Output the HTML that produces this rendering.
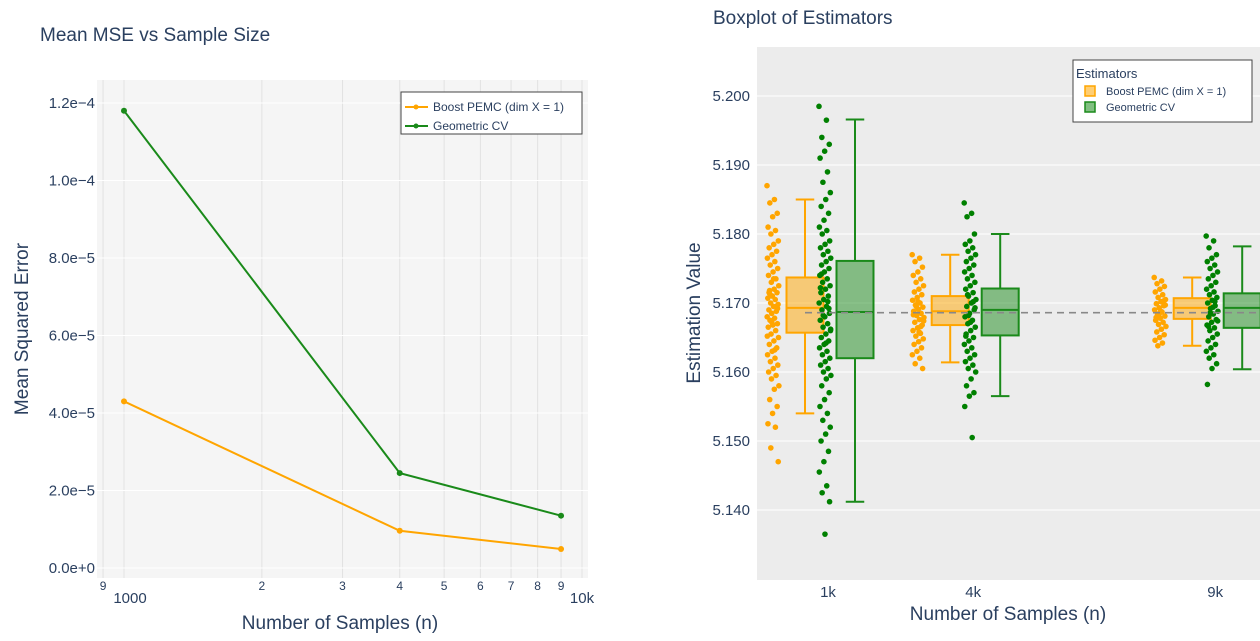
<!DOCTYPE html>
<html><head><meta charset="utf-8">
<style>
body{margin:0;background:#fff;width:1260px;height:636px;overflow:hidden;font-family:"Liberation Sans",sans-serif;}
svg text{font-family:"Liberation Sans",sans-serif;fill:#2a3f5f;}
</style></head>
<body>
<svg id="c" width="1260" height="636" xmlns="http://www.w3.org/2000/svg">
<rect x="97" y="80" width="491" height="498" fill="#f5f5f5"/>
<rect x="757" y="47" width="503" height="533" fill="#ececec"/>
<g id="L"></g><g id="R"></g>
<text x="40" y="41" font-size="19">Mean MSE vs Sample Size</text>
<text x="713" y="24" font-size="19">Boxplot of Estimators</text>
<text x="340" y="629" font-size="19" text-anchor="middle">Number of Samples (n)</text>
<text transform="translate(28,329) rotate(-90)" font-size="19" text-anchor="middle">Mean Squared Error</text>
<text x="1008" y="620" font-size="19" text-anchor="middle">Number of Samples (n)</text>
<text transform="translate(700,313) rotate(-90)" font-size="19" text-anchor="middle">Estimation Value</text>
<g>
<rect x="401" y="92" width="181" height="42" fill="#fff" stroke="#444" stroke-width="1"/>
<line x1="405" y1="107" x2="428" y2="107" stroke="#FFA500" stroke-width="2"/><circle cx="416" cy="107" r="2.5" fill="#FFA500"/>
<text x="433" y="111" font-size="12">Boost PEMC (dim X = 1)</text>
<line x1="405" y1="126" x2="428" y2="126" stroke="#1a8a1a" stroke-width="2"/><circle cx="416" cy="126" r="2.5" fill="#1a8a1a"/>
<text x="433" y="130" font-size="12">Geometric CV</text>
</g>
<g>
<rect x="1073" y="60" width="179" height="62" fill="#fff" stroke="#444" stroke-width="1"/>
<text x="1076" y="78" font-size="13">Estimators</text>
<rect x="1085" y="86" width="10" height="10" fill="#FFA500" fill-opacity="0.55" stroke="#FFA500" stroke-width="1.5"/>
<text x="1106" y="95" font-size="11">Boost PEMC (dim X = 1)</text>
<rect x="1085" y="102" width="10" height="10" fill="#1a8a1a" fill-opacity="0.55" stroke="#1a8a1a" stroke-width="1.5"/>
<text x="1106" y="111" font-size="11">Geometric CV</text>
</g>
</svg>
<script>
// ---- left chart data ----
const nValues=[1000,4000,9000];
const boostMSE=[4.3e-5,9.6e-6,4.9e-6];
const geoMSE=[1.18e-4,2.45e-5,1.35e-5];
const yTicksL=[0,2e-5,4e-5,6e-5,8e-5,1e-4,1.2e-4];
const yTickLabelsL=["0.0e+0","2.0e−5","4.0e−5","6.0e−5","8.0e−5","1.0e−4","1.2e−4"];
const xMinorTicks=[900,2000,3000,4000,5000,6000,7000,8000,9000];
const xMinorLabels=["9","2","3","4","5","6","7","8","9"];
// ---- right chart data ----
const groups=[1000,4000,9000];
const groupLabels=["1k","4k","9k"];
const yTicksR=[5.14,5.15,5.16,5.17,5.18,5.19,5.2];
const refValue=5.1686;
const boostStats=[[5.154,5.1657,5.1693,5.1737,5.185],[5.1614,5.1668,5.1688,5.171,5.177],[5.1638,5.1677,5.1693,5.1707,5.1737]];
const geoStats=[[5.1412,5.162,5.1687,5.1761,5.1966],[5.1565,5.1653,5.169,5.1721,5.18],[5.1604,5.1664,5.1693,5.1714,5.1782]];
const boostPts1k=[5.187,5.185,5.1845,5.183,5.1825,5.181,5.1805,5.18,5.179,5.1785,5.178,5.1775,5.177,5.1765,5.176,5.1755,5.175,5.1745,5.174,5.1735,5.173,5.1725,5.172,5.1718,5.1715,5.171,5.1707,5.1705,5.17,5.1698,5.1695,5.169,5.1688,5.1685,5.168,5.1678,5.1675,5.167,5.1668,5.1665,5.166,5.1655,5.165,5.1645,5.164,5.1635,5.163,5.1625,5.162,5.1615,5.161,5.1605,5.16,5.1595,5.159,5.158,5.1575,5.156,5.155,5.154,5.1525,5.152,5.149,5.147,5.1735,5.1715,5.1695,5.1672,5.1652,5.1632,5.1712,5.1692];
const geoPts1k=[5.1985,5.1965,5.194,5.193,5.192,5.191,5.189,5.1875,5.186,5.185,5.184,5.183,5.182,5.181,5.1805,5.18,5.179,5.1785,5.178,5.1775,5.177,5.1765,5.176,5.1755,5.175,5.1745,5.174,5.1735,5.173,5.1725,5.172,5.1715,5.171,5.1705,5.17,5.1695,5.169,5.1685,5.168,5.1675,5.167,5.1665,5.166,5.1655,5.165,5.1645,5.164,5.1635,5.163,5.1625,5.162,5.1615,5.161,5.1605,5.16,5.1595,5.159,5.158,5.157,5.156,5.155,5.154,5.153,5.152,5.151,5.15,5.1485,5.147,5.1455,5.1435,5.1425,5.1412,5.1365,5.1722,5.1702,5.1682,5.1662,5.1642,5.1742,5.1692];
const boostPts4k=[5.177,5.1765,5.176,5.1752,5.1745,5.174,5.1735,5.173,5.1725,5.172,5.1716,5.1712,5.1708,5.1704,5.17,5.1697,5.1694,5.1691,5.1688,5.1685,5.1682,5.1679,5.1676,5.1672,5.1668,5.1664,5.166,5.1656,5.1652,5.1648,5.1644,5.164,5.1635,5.163,5.1625,5.162,5.1612,5.1605,5.1702,5.1683,5.1666,5.1695,5.1674,5.1658];
const geoPts4k=[5.1845,5.183,5.1825,5.18,5.179,5.1785,5.178,5.1775,5.177,5.1765,5.176,5.1755,5.175,5.1745,5.174,5.1735,5.173,5.1725,5.172,5.1715,5.171,5.1705,5.17,5.1695,5.169,5.1685,5.168,5.1675,5.167,5.1665,5.166,5.1655,5.165,5.1645,5.164,5.1635,5.163,5.1625,5.162,5.1615,5.161,5.1605,5.16,5.159,5.158,5.157,5.1565,5.155,5.1505,5.1712,5.1693,5.1672,5.1652,5.1702,5.1682];
const boostPts9k=[5.1737,5.1732,5.1728,5.1724,5.172,5.1716,5.1712,5.1708,5.1705,5.1702,5.1699,5.1696,5.1693,5.169,5.1687,5.1684,5.1681,5.1678,5.1675,5.1672,5.1669,5.1666,5.1662,5.1658,5.1654,5.165,5.1646,5.1642,5.1638,5.1697,5.1688,5.1679,5.1703,5.1683];
const geoPts9k=[5.1797,5.179,5.178,5.177,5.1765,5.176,5.1755,5.175,5.1745,5.174,5.1735,5.173,5.1725,5.172,5.1716,5.1712,5.1708,5.1704,5.17,5.1696,5.1692,5.1688,5.1684,5.168,5.1676,5.1672,5.1668,5.1664,5.166,5.1655,5.165,5.1645,5.164,5.1635,5.163,5.1625,5.162,5.1612,5.1605,5.1582,5.1702,5.1686,5.1674,5.1694,5.1666];

const NS="http://www.w3.org/2000/svg";
function mk(parent,tag,attrs){const e=document.createElementNS(NS,tag);for(const k in attrs)e.setAttribute(k,attrs[k]);parent.appendChild(e);return e;}
// left axes
const xL=v=>124+(Math.log10(v)-3)*458;
const yL=v=>568-v/1.2e-4*465;
const L=document.getElementById('L');
xMinorTicks.forEach((t,i)=>{
  const g=mk(L,'line',{x1:xL(t),x2:xL(t),y1:80,y2:578,stroke:'#e2e2e2','stroke-width':1});
  
  
  const tx=mk(L,'text',{x:xL(t),y:590,'font-size':12,'text-anchor':'middle'});
  tx.textContent=xMinorLabels[i];
  
  
});
[[1000,"1000"],[10000,"10k"]].forEach(([v,lab])=>{
  const g=mk(L,'line',{x1:xL(v),x2:xL(v),y1:80,y2:578,stroke:'#e2e2e2','stroke-width':1});
  
  
  const tx=mk(L,'text',{x:xL(v)+(v===1000?6:0),y:603,'font-size':15,'text-anchor':'middle'});
  tx.textContent=lab;
  
  
});
yTicksL.forEach((t,i)=>{
  const g=mk(L,'line',{x1:97,x2:588,y1:yL(t),y2:yL(t),stroke:'#fff','stroke-width':1});
  
  
  const tx=mk(L,'text',{x:95,y:yL(t)+5,'font-size':15,'text-anchor':'end'});
  tx.textContent=yTickLabelsL[i];
  
  
});
[[boostMSE,'#FFA500','boost'],[geoMSE,'#1a8a1a','geometric']].forEach(([vals,col,nm])=>{
  const pl=mk(L,'polyline',{points:vals.map((v,i)=>xL(nValues[i])+','+yL(v)).join(' '),fill:'none',stroke:col,'stroke-width':2});
  
  
  vals.forEach((v,i)=>{
    const c=mk(L,'circle',{cx:xL(nValues[i]),cy:yL(v),r:3,fill:col});
    
    
  });
});
// right axes
const xR=v=>828+(v-1000)*0.0484;
const yR=v=>96+(5.2-v)*6900;
const R=document.getElementById('R');
yTicksR.forEach(t=>{
  const g=mk(R,'line',{x1:757,x2:1260,y1:yR(t),y2:yR(t),stroke:'#fff','stroke-width':1});
  
  
  const tx=mk(R,'text',{x:750,y:yR(t)+5,'font-size':15,'text-anchor':'end'});
  tx.textContent=t.toFixed(3);
  
  
});
groups.forEach((g,i)=>{
  const tx=mk(R,'text',{x:xR(g),y:597,'font-size':15,'text-anchor':'middle'});
  tx.textContent=groupLabels[i];
  
  
});
const ptsB=[boostPts1k,boostPts4k,boostPts9k], ptsG=[geoPts1k,geoPts4k,geoPts9k];
function drawPts(arr,cx,col,nm){
  arr.forEach((v,i)=>{
    const j=((i*0.618034)%1-0.5)*12;
    const c=mk(R,'circle',{cx:cx+j,cy:yR(v),r:2.8,fill:col});
    
    
  });
}
function drawBox(s,cx,col,nm){
  const w=37,h=w/2;
  const g=mk(R,'g',{});
  
  
  mk(g,'line',{x1:cx,x2:cx,y1:yR(s[0]),y2:yR(s[1]),stroke:col,'stroke-width':2});
  mk(g,'line',{x1:cx,x2:cx,y1:yR(s[3]),y2:yR(s[4]),stroke:col,'stroke-width':2});
  mk(g,'line',{x1:cx-h/2,x2:cx+h/2,y1:yR(s[0]),y2:yR(s[0]),stroke:col,'stroke-width':2});
  mk(g,'line',{x1:cx-h/2,x2:cx+h/2,y1:yR(s[4]),y2:yR(s[4]),stroke:col,'stroke-width':2});
  mk(g,'rect',{x:cx-h,y:yR(s[3]),width:w,height:yR(s[1])-yR(s[3]),fill:col,'fill-opacity':0.5,stroke:col,'stroke-width':2});
  mk(g,'line',{x1:cx-h,x2:cx+h,y1:yR(s[2]),y2:yR(s[2]),stroke:col,'stroke-width':2});
}
groups.forEach((g,i)=>{
  const c=xR(g);
  drawPts(ptsB[i],c-55,'#FFA500','boost-point');
  drawBox(boostStats[i],c-23,'#FFA500','boost-box-'+groupLabels[i]);
  drawPts(ptsG[i],c-3,'#008000','geometric-point');
  drawBox(geoStats[i],c+27,'#1a8a1a','geometric-box-'+groupLabels[i]);
});
const ref=mk(R,'line',{x1:805,x2:1256,y1:yR(refValue),y2:yR(refValue),stroke:'#888','stroke-width':1.6,'stroke-dasharray':'7,5'});


</script>
</body></html>
